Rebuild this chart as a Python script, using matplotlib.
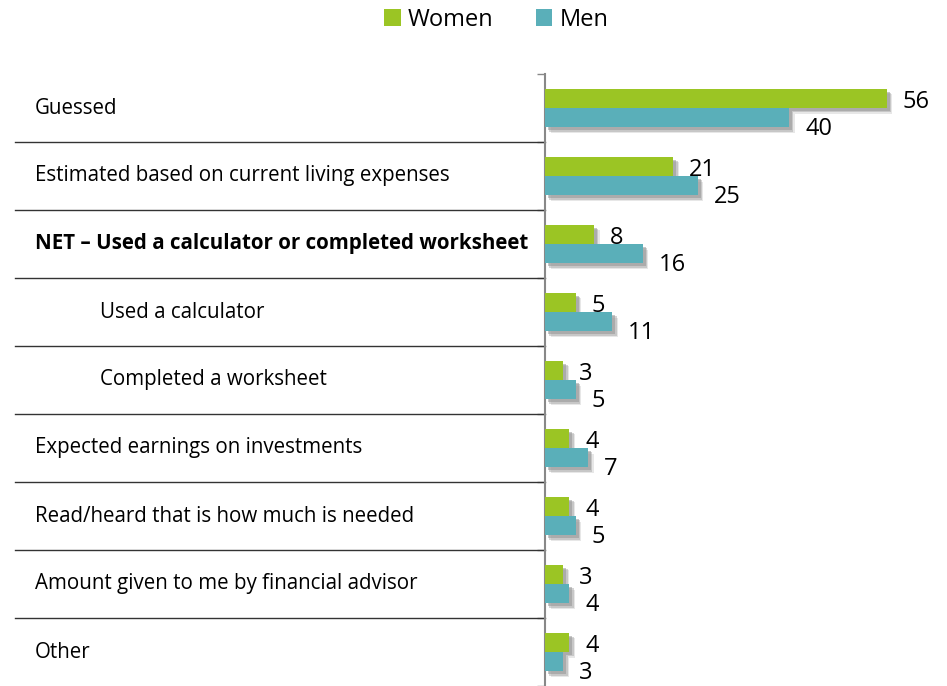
import matplotlib
matplotlib.use("Agg")
import matplotlib.pyplot as plt
import matplotlib.patheffects as pe
from matplotlib.patches import Patch
from matplotlib.transforms import blended_transform_factory, offset_copy

plt.rcParams['font.family'] = ['Open Sans', 'DejaVu Sans']

categories = [
    "Guessed",
    "Estimated based on current living expenses",
    "NET \u2013 Used a calculator or completed worksheet",
    "Used a calculator",
    "Completed a worksheet",
    "Expected earnings on investments",
    "Read/heard that is how much is needed",
    "Amount given to me by financial advisor",
    "Other",
]
indented = [False, False, False, True, True, False, False, False, False]
bold = [False, False, True, False, False, False, False, False, False]
women = [56, 21, 8, 5, 3, 4, 4, 3, 4]
men = [40, 25, 16, 11, 5, 7, 5, 4, 3]

GREEN = "#9BC524"
TEAL = "#5AAFB9"

W, H = 947, 686
fig = plt.figure(figsize=(W / 100, H / 100), dpi=100)
ax_left = 545 / W
ax_top = 74 / H
ax = fig.add_axes([ax_left, 0.0, 366 / W, 1 - ax_top])
ax.set_xlim(0, 60)
n = len(categories)
ax.set_ylim(n, 0)

bh = 0.285
off = 0.1425
ys = [i + 0.5 for i in range(n)]
shadow = [pe.SimplePatchShadow(offset=(4.2, -4.2), shadow_rgbFace="#BBBBBB", alpha=0.35),
          pe.SimplePatchShadow(offset=(3.2, -3.2), shadow_rgbFace="#A0A0A0", alpha=0.45),
          pe.SimplePatchShadow(offset=(2.2, -2.2), shadow_rgbFace="#909090", alpha=0.5),
          pe.Normal()]
bw = ax.barh([y - off for y in ys], women, height=bh, color=GREEN, label="Women", zorder=3)
bm = ax.barh([y + off for y in ys], men, height=bh, color=TEAL, label="Men", zorder=3)
for b in list(bw) + list(bm):
    b.set_path_effects(shadow)

for y, v in zip(ys, women):
    t = offset_copy(ax.transData, fig=fig, x=16, y=-4, units='dots')
    ax.text(v, y - off, str(v), transform=t, ha='left', va='center', fontsize=17, color='black')
for y, v in zip(ys, men):
    t = offset_copy(ax.transData, fig=fig, x=16, y=-11, units='dots')
    ax.text(v, y + off, str(v), transform=t, ha='left', va='center', fontsize=17, color='black')

for s in ['top', 'right', 'bottom']:
    ax.spines[s].set_visible(False)
ax.spines['left'].set_color('#888888')
ax.spines['left'].set_linewidth(1.5)
ax.set_xticks([])
ax.set_yticks(range(n + 1))
ax.set_yticklabels([])
ax.tick_params(axis='y', length=6, width=1, color='#888888', direction='out')

bt = blended_transform_factory(fig.transFigure, ax.transData)
for i, (c, ind, b) in enumerate(zip(categories, indented, bold)):
    x = (100 if ind else 35) / W
    ax.text(x, i + 0.5, c, transform=bt, ha='left', va='center', fontsize=14.8,
            fontweight='bold' if b else 'normal', color='black')
for k in range(1, n):
    ax.plot([15 / W, ax_left], [k, k], transform=bt, color='#333333', lw=1, clip_on=False)

handles = [Patch(facecolor=GREEN, edgecolor='none'), Patch(facecolor=TEAL, edgecolor='none')]
leg = fig.legend(handles=handles, labels=["Women", "Men"], loc='center', ncol=2,
                 bbox_to_anchor=(0.524, 1 - 20 / H), frameon=False, fontsize=17,
                 handlelength=0.7, handleheight=0.7, handletextpad=0.3, columnspacing=1.8)

fig.savefig("out.png", dpi=100)
